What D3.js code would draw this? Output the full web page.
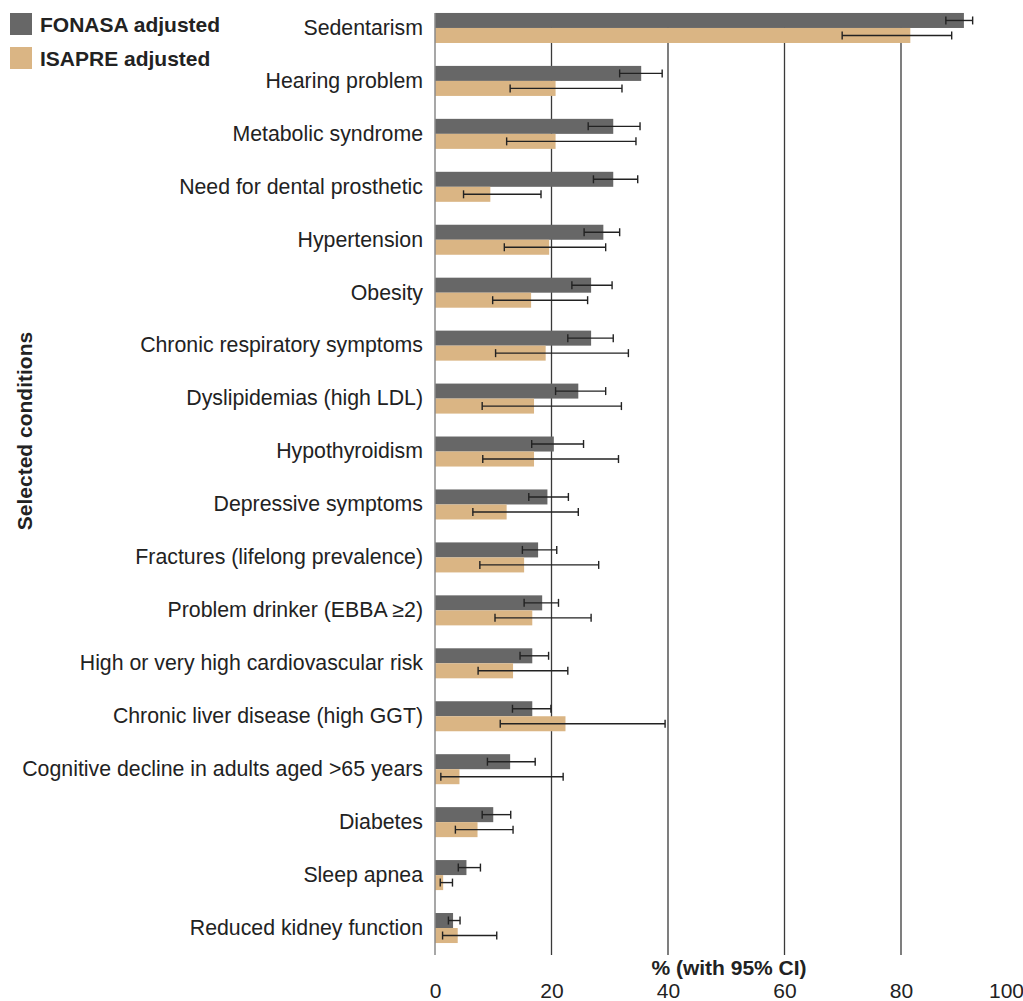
<!DOCTYPE html>
<html>
<head>
<meta charset="utf-8">
<script src="https://cdn.jsdelivr.net/npm/d3@7"></script>
<style>
  body { margin: 0; background: #fff; }
  svg { display: block; font-family: "Liberation Sans", Arial, sans-serif; }
</style>
</head>
<body>
<svg></svg>
<script>
const conditions = [
    'Sedentarism', 'Hearing problem', 'Metabolic syndrome', 'Need for dental prosthetic',
    'Hypertension', 'Obesity', 'Chronic respiratory symptoms', 'Dyslipidemias (high LDL)',
    'Hypothyroidism', 'Depressive symptoms', 'Fractures (lifelong prevalence)',
    'Problem drinker (EBBA \u22652)', 'High or very high cardiovascular risk',
    'Chronic liver disease (high GGT)', 'Cognitive decline in adults aged >65 years',
    'Diabetes', 'Sleep apnea', 'Reduced kidney function'
];
const seriesNames = ['FONASA adjusted', 'ISAPRE adjusted'];

const fonasa    = [90.8, 35.4, 30.6, 30.6, 28.9, 26.8, 26.8, 24.6, 20.4, 19.3, 17.7, 18.4, 16.7, 16.7, 12.9, 10.0, 5.4, 3.1];
const fonasaLow = [87.7, 31.7, 26.3, 27.2, 25.6, 23.5, 22.8, 20.7, 16.6, 16.1, 15.0, 15.3, 14.6, 13.3, 9.0, 8.1, 4.0, 2.3];
const fonasaHigh = [92.3, 39.0, 35.2, 34.8, 31.7, 30.4, 30.6, 29.3, 25.5, 22.9, 20.9, 21.2, 19.5, 19.9, 17.2, 13.0, 7.8, 4.3];

const isapre    = [81.6, 20.7, 20.7, 9.5, 19.6, 16.5, 19.0, 17.0, 17.0, 12.3, 15.3, 16.7, 13.4, 22.4, 4.2, 7.3, 1.4, 3.9];
const isapreLow = [69.9, 12.9, 12.3, 4.9, 11.9, 9.9, 10.4, 8.1, 8.2, 6.5, 7.7, 10.3, 7.4, 11.2, 1.0, 3.5, 0.9, 1.3];
const isapreHigh = [88.7, 32.1, 34.5, 18.2, 29.3, 26.2, 33.2, 32.0, 31.5, 24.6, 28.1, 26.8, 22.8, 39.5, 22.0, 13.4, 3.0, 10.6];

const xTicks = [0, 20, 40, 60, 80, 100];

const colors = ['#676767', '#dab584'];

const svgWidth = 1023;
const svgHeight = 1001;

const rows = conditions.map((c, i) => ({
    cond: c,
    vals: [
        { s: 0, v: fonasa[i], lo: fonasaLow[i], hi: fonasaHigh[i] },
        { s: 1, v: isapre[i], lo: isapreLow[i], hi: isapreHigh[i] }
    ]
}));

const x = d3.scaleLinear().domain([0, 100]).range([435, 1017.5]);

const y = d3.scaleBand()
    .domain(conditions)
    .range([1.5, 954.5])
    .paddingInner(0.433)
    .paddingOuter(0.2165);

const ySub = d3.scaleBand()
    .domain([0, 1])
    .range([0, y.bandwidth()]);

const svg = d3.select('svg')
    .attr('width', svgWidth)
    .attr('height', svgHeight);

const gridTop = y(conditions[0]);
const gridBottom = 955;

// grid lines
svg.append('g')
    .selectAll('line')
    .data([20, 40, 60, 80])
    .enter().append('line')
    .attr('x1', d => x(d)).attr('x2', d => x(d))
    .attr('y1', gridTop).attr('y2', gridBottom)
    .attr('stroke', '#3a3a3a')
    .attr('stroke-width', 1.3);

// bars
const groups = svg.append('g')
    .selectAll('g')
    .data(rows)
    .enter().append('g')
    .attr('transform', d => `translate(0, ${y(d.cond)})`);

groups.selectAll('rect')
    .data(d => d.vals)
    .enter().append('rect')
    .attr('x', x(0))
    .attr('y', d => ySub(d.s))
    .attr('width', d => x(d.v) - x(0))
    .attr('height', ySub.bandwidth())
    .attr('fill', d => colors[d.s]);

// error bars
const err = groups.selectAll('g.err')
    .data(d => d.vals)
    .enter().append('g')
    .attr('class', 'err')
    .attr('stroke', '#222')
    .attr('stroke-width', 1.4);

err.append('line')
    .attr('x1', d => x(d.lo)).attr('x2', d => x(d.hi))
    .attr('y1', d => ySub(d.s) + ySub.bandwidth() / 2)
    .attr('y2', d => ySub(d.s) + ySub.bandwidth() / 2);

err.selectAll('line.cap')
    .data(d => [d.lo, d.hi].map(v => ({ v, s: d.s })))
    .enter().append('line')
    .attr('class', 'cap')
    .attr('x1', d => x(d.v)).attr('x2', d => x(d.v))
    .attr('y1', d => ySub(d.s) + ySub.bandwidth() / 2 - 4)
    .attr('y2', d => ySub(d.s) + ySub.bandwidth() / 2 + 4);

// zero line
svg.append('line')
    .attr('x1', x(0)).attr('x2', x(0))
    .attr('y1', gridTop).attr('y2', gridBottom)
    .attr('stroke', '#8a8a8a')
    .attr('stroke-width', 1.5);

// category labels
const yAxis = svg.append('g')
    .attr('transform', 'translate(423, 0)')
    .call(d3.axisLeft(y).tickSize(0).tickPadding(0));
yAxis.select('.domain').remove();
yAxis.selectAll('text')
    .attr('font-size', '21.3px')
    .attr('font-family', '"Liberation Sans", Arial, sans-serif')
    .attr('fill', '#222');

// x tick labels
const xAxis = svg.append('g')
    .attr('transform', 'translate(0, 980)')
    .call(d3.axisBottom(x).tickValues(xTicks).tickSize(0).tickPadding(0));
xAxis.select('.domain').remove();
xAxis.selectAll('text')
    .attr('font-size', '21px')
    .attr('font-family', '"Liberation Sans", Arial, sans-serif')
    .attr('fill', '#222')
    .attr('dy', '0.85em');
xAxis.selectAll('.tick').filter(d => d === 100).select('text')
    .attr('text-anchor', 'end')
    .attr('dx', '6');

// x axis title
svg.append('text')
    .attr('x', 729)
    .attr('y', 975)
    .attr('text-anchor', 'middle')
    .attr('font-size', '21px')
    .attr('font-weight', 'bold')
    .attr('fill', '#222')
    .text('% (with 95% CI)');

// y axis title
svg.append('text')
    .attr('transform', 'translate(32, 431) rotate(-90)')
    .attr('text-anchor', 'middle')
    .attr('font-size', '21px')
    .attr('font-weight', 'bold')
    .attr('fill', '#222')
    .text('Selected conditions');

// legend
const legend = svg.append('g');
seriesNames.forEach((name, i) => {
    legend.append('rect')
        .attr('x', 10)
        .attr('y', 13 + i * 34)
        .attr('width', 22)
        .attr('height', 22)
        .attr('fill', colors[i]);
    legend.append('text')
        .attr('x', 40)
        .attr('y', 32 + i * 34)
        .attr('font-size', '21px')
        .attr('font-weight', 'bold')
        .attr('fill', '#222')
        .text(name);
});
</script>
</body>
</html>
